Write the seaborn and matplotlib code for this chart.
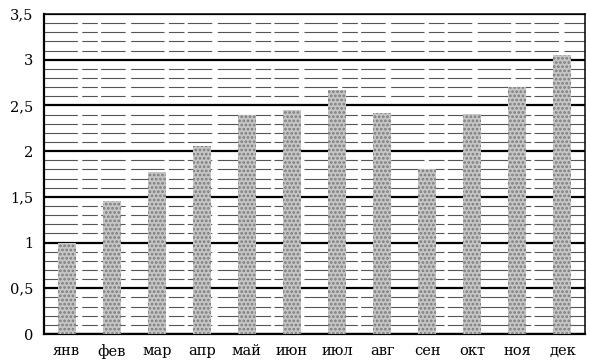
import matplotlib
matplotlib.use("Agg")
import matplotlib.pyplot as plt
from matplotlib.ticker import MultipleLocator, FixedLocator
import seaborn as sns
import pandas as pd

months = ["янв", "фев", "мар", "апр", "май", "июн", "июл", "авг", "сен", "окт", "ноя", "дек"]
values = [0.99, 1.45, 1.77, 2.06, 2.40, 2.45, 2.67, 2.42, 1.80, 2.41, 2.70, 3.05]
ytick_values = [0, 0.5, 1, 1.5, 2, 2.5, 3, 3.5]
ytick_labels = ["0", "0,5", "1", "1,5", "2", "2,5", "3", "3,5"]

df = pd.DataFrame({"month": months, "value": values})

sns.set_style("white")
plt.rcParams["font.family"] = ["DejaVu Serif"]
plt.rcParams["hatch.linewidth"] = 1.3

fig = plt.figure(figsize=(5.9, 3.64), dpi=100)
ax = fig.add_axes([44 / 590, 1 - 334 / 364, (585 - 44) / 590, (334 - 14) / 364])

sns.barplot(data=df, x="month", y="value", order=months, ax=ax,
            color="#c6c6c6", width=0.4, saturation=1, errorbar=None,
            edgecolor="#7a7a7a", linewidth=0, zorder=3)
for p in ax.patches:
    p.set_hatch("....")

ax.set_xlim(-0.5, 11.5)
ax.set_ylim(0, 3.5)
ax.yaxis.set_major_locator(FixedLocator(ytick_values))
ax.set_yticklabels(ytick_labels)
ax.yaxis.set_minor_locator(MultipleLocator(0.1))
ax.set_axisbelow(True)
ax.grid(which="major", axis="y", color="black", lw=1.6, zorder=1)
ax.grid(which="minor", axis="y", color="#555555", lw=0.8,
        ls=(0, (30, 4, 14, 3, 22, 5)), zorder=0)
ax.grid(which="major", axis="x", visible=False)

ax.set_xlabel("")
ax.set_ylabel("")
ax.tick_params(axis="both", which="both", length=0, labelsize=10.5, colors="black")
ax.tick_params(axis="y", pad=8)
ax.tick_params(axis="x", pad=7)

for side in ["left", "bottom"]:
    ax.spines[side].set_linewidth(1.6)
    ax.spines[side].set_color("black")
for side in ["top", "right"]:
    ax.spines[side].set_linewidth(1.1)
    ax.spines[side].set_color("black")
    ax.spines[side].set_visible(True)

fig.savefig("out.png", dpi=100, facecolor="white")
